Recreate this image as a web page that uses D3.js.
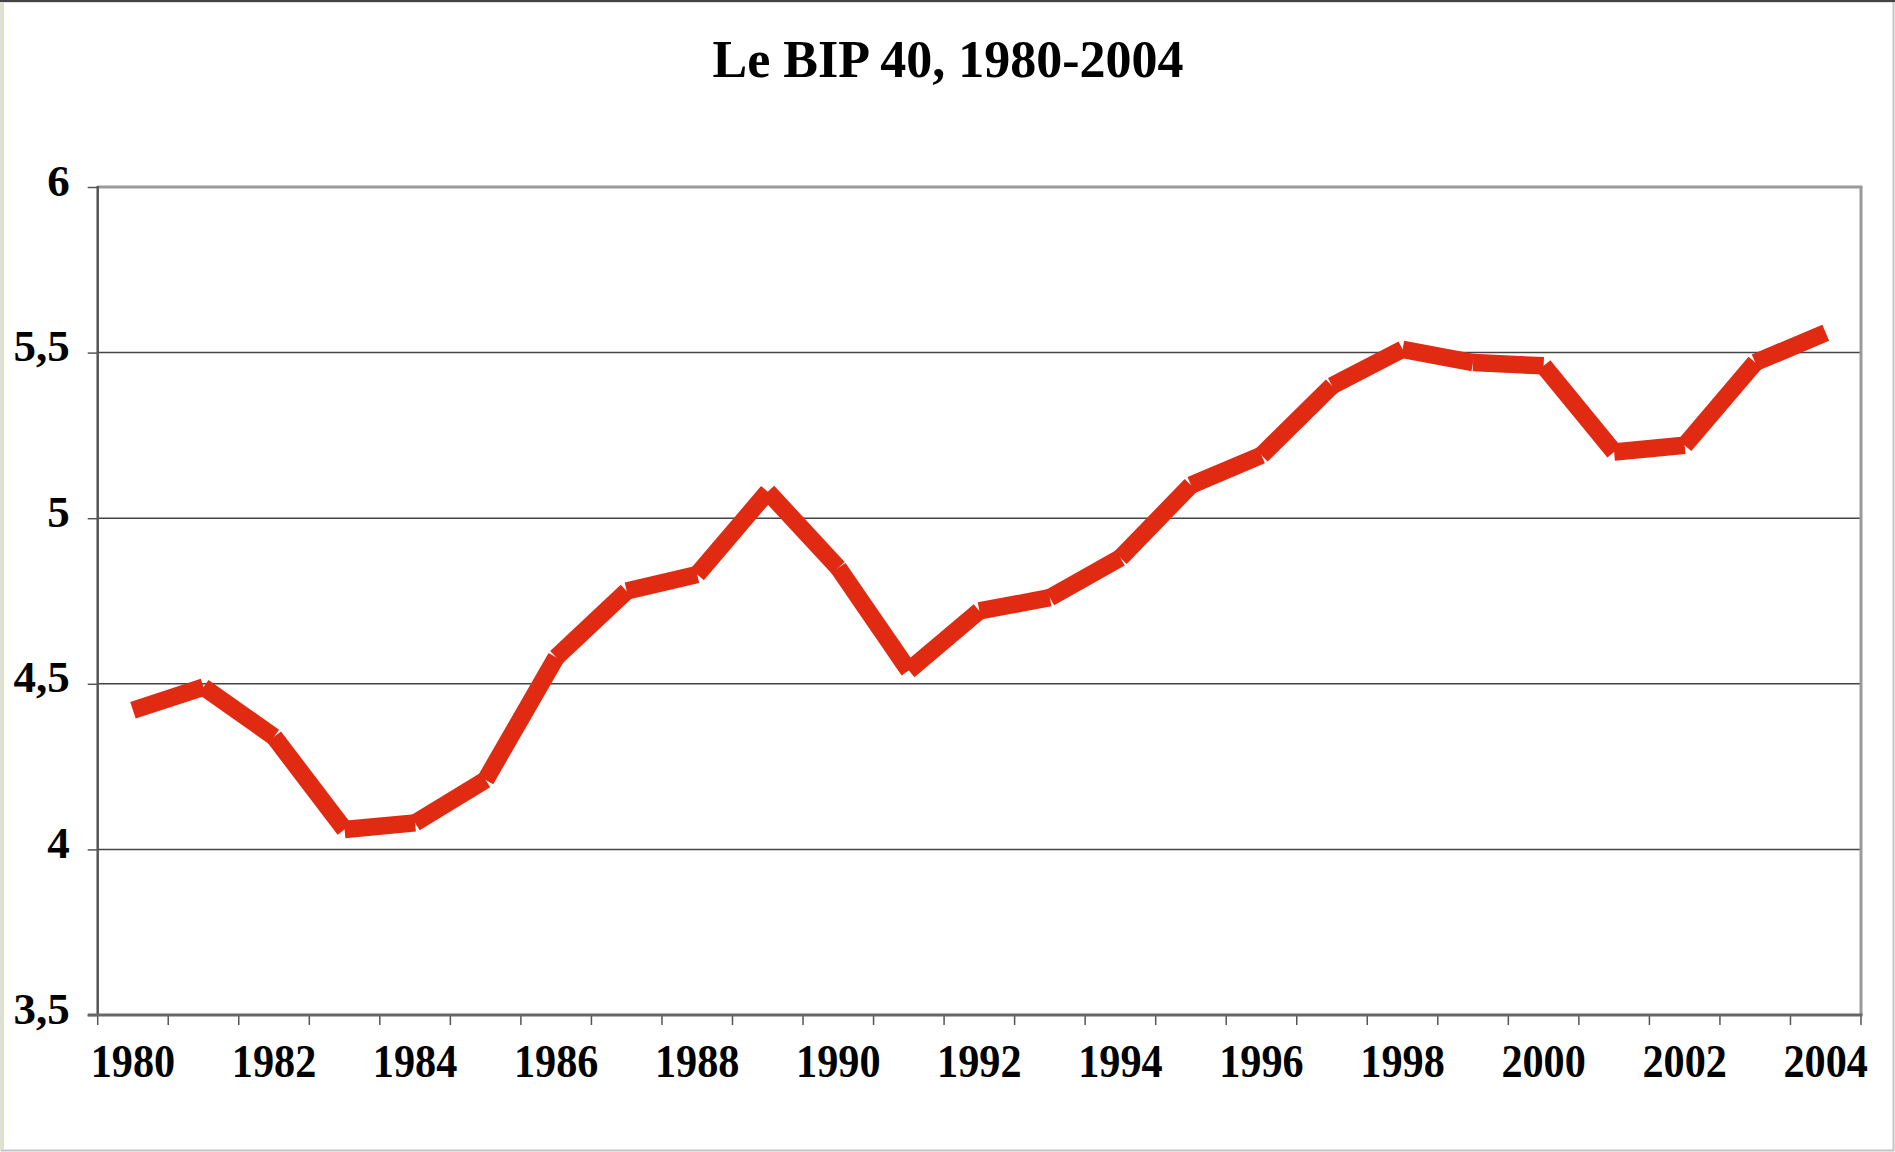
<!DOCTYPE html>
<html>
<head>
<meta charset="utf-8">
<script src="https://cdn.jsdelivr.net/npm/d3@7"></script>
<style>
  html, body { margin: 0; padding: 0; background: #fff; }
  svg { display: block; }
  text { font-family: "Liberation Serif", "Times New Roman", serif; font-weight: bold; fill: #000; }
</style>
</head>
<body>
<svg id="chart" width="1895" height="1152"></svg>
<script>
const title = "Le BIP 40, 1980-2004";
const years = [1980, 1981, 1982, 1983, 1984, 1985, 1986, 1987, 1988, 1989, 1990, 1991, 1992,
               1993, 1994, 1995, 1996, 1997, 1998, 1999, 2000, 2001, 2002, 2003, 2004];
const bip40 = [4.42, 4.49, 4.34, 4.06, 4.08, 4.21, 4.58, 4.78, 4.83, 5.08, 4.85, 4.54, 4.72,
               4.76, 4.88, 5.10, 5.19, 5.40, 5.51, 5.47, 5.46, 5.20, 5.22, 5.47, 5.56];
const yTicks = [3.5, 4, 4.5, 5, 5.5, 6];
const xLabelYears = [1980, 1982, 1984, 1986, 1988, 1990, 1992, 1994, 1996, 1998, 2000, 2002, 2004];

const W = 1895, H = 1152;
const m = { left: 97.7, right: 1861, top: 187, bottom: 1015 };
const svg = d3.select("#chart");

// outer frame
svg.append("rect").attr("x", 1.5).attr("y", 1.5).attr("width", W - 3).attr("height", H - 3)
  .attr("fill", "#fff").attr("stroke", "#c4c4c4").attr("stroke-width", 2);
svg.append("line").attr("x1", 0).attr("x2", W).attr("y1", 1).attr("y2", 1)
  .attr("stroke", "#444").attr("stroke-width", 2);
svg.append("line").attr("x1", 2.5).attr("x2", 2.5).attr("y1", 2).attr("y2", H - 2)
  .attr("stroke", "#dfe2bf").attr("stroke-width", 3);

const x = d3.scaleBand().domain(years).range([m.left, m.right]).padding(0);
const y = d3.scaleLinear().domain([3.5, 6]).range([m.bottom, m.top]);
const cx = d => x(d) + x.bandwidth() / 2;

// title
svg.append("text").attr("x", 948).attr("y", 77).attr("text-anchor", "middle")
  .style("font-size", "52px").text(title);

// gridlines
svg.append("g").selectAll("line").data(yTicks.filter(v => v > 3.5 && v < 6)).join("line")
  .attr("x1", m.left).attr("x2", m.right)
  .attr("y1", d => y(d)).attr("y2", d => y(d))
  .attr("stroke", "#444").attr("stroke-width", 1.5);

// plot frame top/right
svg.append("line").attr("x1", m.left).attr("x2", m.right + 1.5).attr("y1", m.top).attr("y2", m.top)
  .attr("stroke", "#9a9a9a").attr("stroke-width", 3);
svg.append("line").attr("x1", m.right).attr("x2", m.right).attr("y1", m.top).attr("y2", m.bottom)
  .attr("stroke", "#9a9a9a").attr("stroke-width", 3);

// y axis
const yAxis = d3.axisLeft(y).tickValues(yTicks).tickSize(10).tickPadding(18)
  .tickFormat(d => String(d).replace(".", ","));
const gy = svg.append("g").attr("transform", `translate(${m.left},0)`).call(yAxis);
gy.select(".domain").remove();
gy.selectAll(".tick line").attr("stroke", "#555").attr("stroke-width", 1.5);
gy.selectAll(".tick text").attr("dy", null).attr("y", 8).attr("x", -28)
  .style("font-size", "45px").style("font-family", "'Liberation Serif', serif").style("font-weight", "bold");
svg.append("line").attr("x1", m.left).attr("x2", m.left).attr("y1", m.top - 1).attr("y2", m.bottom + 1)
  .attr("stroke", "#555").attr("stroke-width", 2.5);

// x axis: ticks at band boundaries
const boundaries = years.map(d => x(d)).concat([m.right]);
svg.append("g").selectAll("line").data(boundaries).join("line")
  .attr("x1", d => d).attr("x2", d => d).attr("y1", m.bottom).attr("y2", m.bottom + 10)
  .attr("stroke", "#555").attr("stroke-width", 1.5);
svg.append("line").attr("x1", m.left - 10).attr("x2", m.right + 1.5).attr("y1", m.bottom).attr("y2", m.bottom)
  .attr("stroke", "#666").attr("stroke-width", 3);

const xAxis = d3.axisBottom(x).tickValues(xLabelYears).tickSize(0).tickPadding(0);
const gx = svg.append("g").attr("transform", `translate(0,${m.bottom})`).call(xAxis);
gx.select(".domain").remove();
gx.selectAll(".tick text").attr("dy", null).attr("y", 62)
  .attr("transform", "scale(0.96,1.06)")
  .style("font-size", "44px").style("font-family", "'Liberation Serif', serif").style("font-weight", "bold");
// keep label centres in place after scaling
gx.selectAll(".tick").each(function(d) {
  const t = d3.select(this);
  t.select("text").attr("transform", null)
    .attr("transform", `translate(0,${62 - 62 * 1.06}) scale(0.96,1.06)`);
});

// the line, drawn as separate segments (butt caps) like the original
const pts = years.map((yr, i) => [cx(yr), y(bip40[i])]);
const segs = d3.pairs(pts);
const lineGen = d3.line();
svg.append("g").selectAll("path").data(segs).join("path")
  .attr("d", d => lineGen(d))
  .attr("fill", "none").attr("stroke", "#e12a12").attr("stroke-width", 17.5)
  .attr("stroke-linecap", "butt");
</script>
</body>
</html>
